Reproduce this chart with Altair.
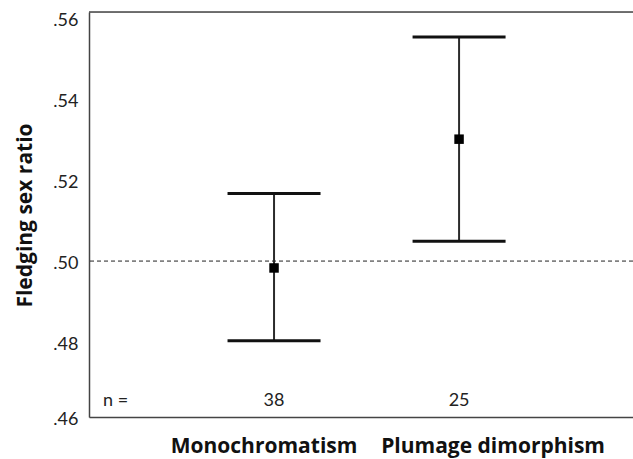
import altair as alt
import pandas as pd

# Mean fledging sex ratio with error bars for two plumage types
groups = ["Monochromatism", "Plumage dimorphism"]
group_pos = [1, 2]
means = [0.4983, 0.5301]
lower = [0.4803, 0.5049]
upper = [0.5167, 0.5553]
counts = ["38", "25"]

tick_values = [0.4615, 0.48, 0.50, 0.52, 0.54, 0.56]
y_domain = [0.4615, 0.5615]
ref_value = [0.5]

FONT = "Lato"
BOLD_FONT = "Open Sans"
FRAME = "#444444"

df = pd.DataFrame({
    "group": groups, "pos": group_pos, "mean": means,
    "lo": lower, "hi": upper, "n": counts,
})

x_enc = alt.X(
    "pos:Q",
    scale=alt.Scale(domain=[0, 2.94], nice=False, zero=False),
    axis=alt.Axis(labels=False, ticks=False, grid=False, title=None,
                  domainColor=FRAME, domainWidth=1.5),
)
y_scale = alt.Scale(domain=y_domain, nice=False, zero=False)
y_axis = alt.Axis(
    values=tick_values, ticks=False, grid=False,
    labelExpr="replace(format(datum.value, '.2f'), '0.', '.')",
    labelFont=FONT, labelFontSize=18, labelColor="#222", labelPadding=11,
    labelOffset=2,
    domainColor=FRAME, domainWidth=1.5,
    title="Fledging sex ratio", titleFont=BOLD_FONT, titleFontSize=21,
    titleFontWeight="bold", titleColor="#111", titleAngle=270,
    titleBaseline="middle", titleAlign="center", titleX=-64, titleY=203,
)

base = alt.Chart(df)

whisker = base.mark_rule(color="#2b2b2b", strokeWidth=2).encode(
    x=x_enc, y=alt.Y("lo:Q", scale=y_scale, axis=y_axis), y2="hi:Q"
)
cap_lo = base.mark_tick(orient="horizontal", size=93, thickness=3,
                        color="#111", opacity=1).encode(x="pos:Q", y="lo:Q")
cap_hi = base.mark_tick(orient="horizontal", size=93, thickness=3,
                        color="#111", opacity=1).encode(x="pos:Q", y="hi:Q")
point = base.mark_square(size=90, color="#000", opacity=1).encode(
    x="pos:Q", y="mean:Q"
)

ref_line = alt.Chart(pd.DataFrame({"ref": ref_value})).mark_rule(
    strokeDash=[4, 3], color="#222", strokeWidth=1
).encode(y="ref:Q")

top_border = alt.Chart(pd.DataFrame({"a": [0]})).mark_rule(
    color=FRAME, strokeWidth=1.5
).encode(y=alt.value(0))

n_values = base.mark_text(font=FONT, fontSize=18, color="#222", baseline="middle").encode(
    x="pos:Q", y=alt.value(389), text="n:N"
)
n_label = alt.Chart(pd.DataFrame({"t": ["n ="]})).mark_text(
    font=FONT, fontSize=18, color="#222", align="left", baseline="middle"
).encode(x=alt.value(14), y=alt.value(389), text="t:N")

cat_labels = []
for p, dx in zip(group_pos, [-10, 34]):
    cat_labels.append(
        base.transform_filter(alt.datum.pos == p).mark_text(
            font=BOLD_FONT, fontSize=21, fontWeight="bold", color="#111", dx=dx,
            baseline="middle"
        ).encode(x="pos:Q", y=alt.value(435), text="group:N")
    )

chart = alt.layer(
    ref_line, whisker, cap_lo, cap_hi, point, top_border, n_values, n_label, *cat_labels
).properties(
    width=544, height=405,
    padding={"left": 89, "top": 12, "right": 0, "bottom": 42},
    autosize=alt.AutoSizeParams(type="none"),
).configure_view(stroke=None).configure(background="white")

chart.save("out.html", embed_options={"renderer": "svg", "actions": False})
